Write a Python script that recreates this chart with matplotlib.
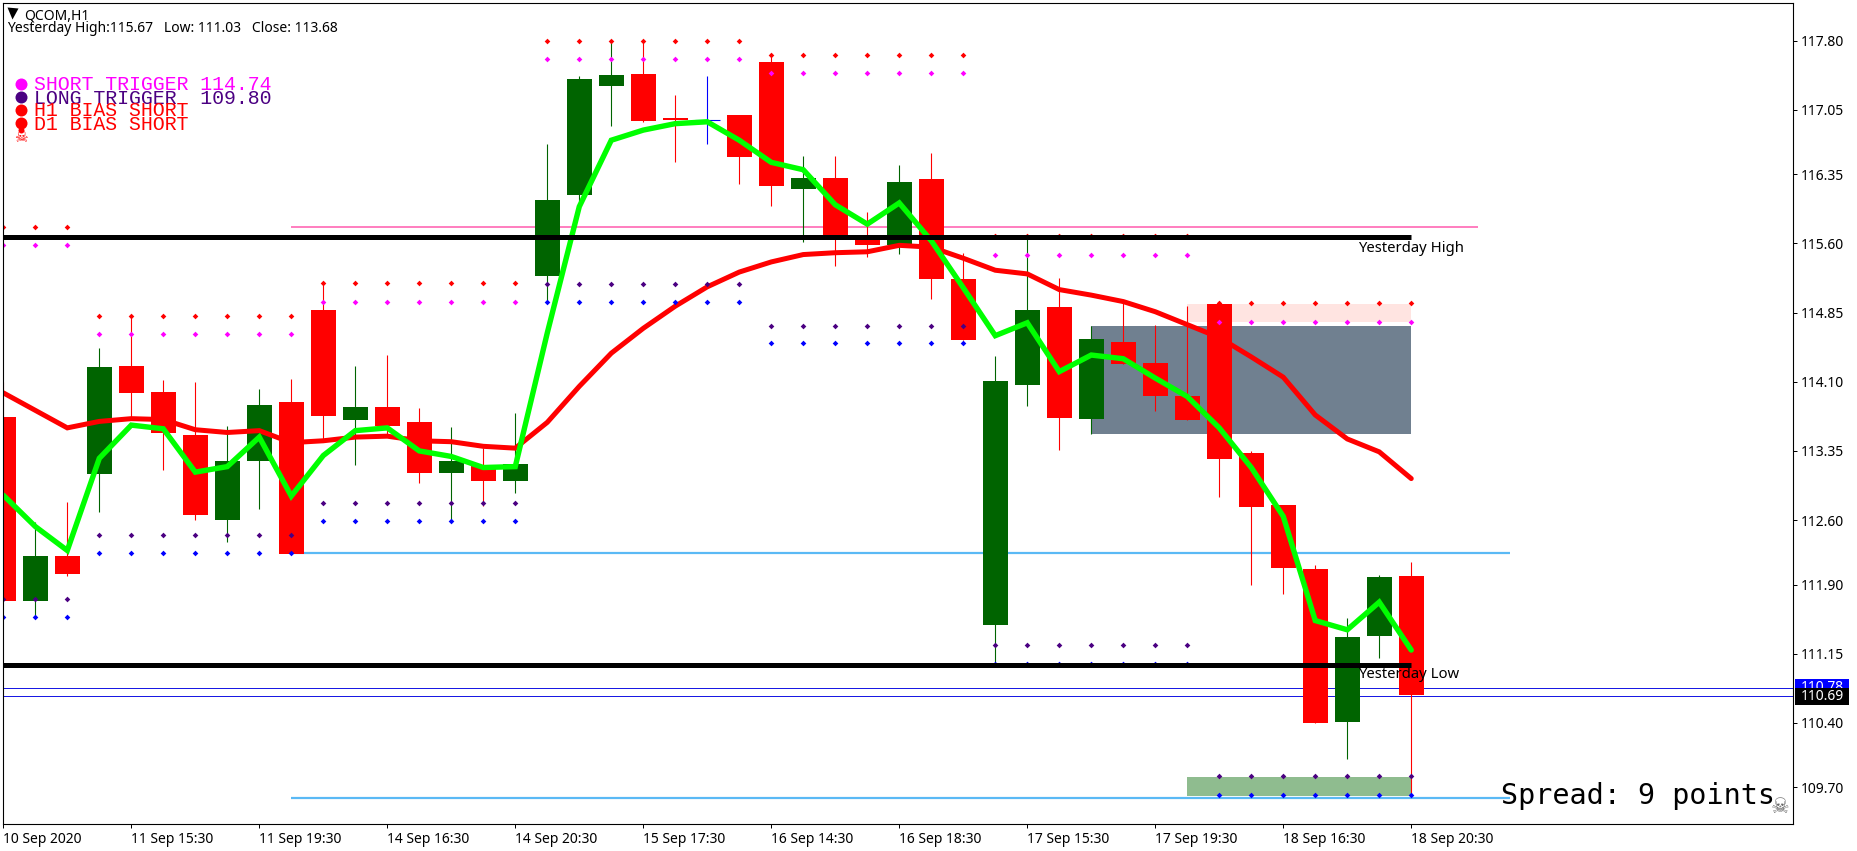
import matplotlib
matplotlib.use("Agg")
import matplotlib.pyplot as plt
from matplotlib.lines import Line2D
from matplotlib.patches import Rectangle

plt.rcParams['font.family'] = ['Noto Sans', 'DejaVu Sans']

W, H = 1857, 851

# candles, QCOM H1
opens = [113.72, 111.72, 112.21, 113.10, 114.27, 113.99, 113.52, 112.60, 113.24, 113.88,
         114.88, 113.69, 113.83, 113.66, 113.11, 113.20, 113.02, 115.25, 116.13, 117.31,
         117.44, 116.96, 116.94, 116.99, 117.57, 116.19, 116.31, 115.67, 115.58, 116.30,
         115.22, 111.46, 114.06, 114.91, 113.70, 114.53, 114.30, 113.95, 114.94, 113.33,
         112.76, 112.07, 110.41, 111.34, 111.99]
highs = [114.10, 112.58, 112.80, 114.47, 114.81, 114.12, 114.10, 113.62, 114.02, 114.13,
         115.17, 114.27, 114.39, 113.82, 113.61, 113.38, 113.76, 116.68, 117.42, 117.81,
         117.81, 117.21, 117.42, 116.99, 117.67, 116.55, 116.55, 115.94, 116.45, 116.58,
         115.50, 114.38, 115.66, 115.23, 114.71, 114.96, 114.72, 114.92, 114.98, 113.35,
         112.76, 112.11, 111.54, 112.00, 112.14]
lows = [111.72, 111.55, 111.99, 112.69, 113.72, 113.14, 112.60, 112.36, 112.72, 112.23,
        113.47, 113.20, 113.50, 113.00, 112.58, 112.75, 112.89, 114.97, 116.06, 116.87,
        116.92, 116.48, 116.68, 116.25, 116.01, 115.62, 115.36, 115.45, 115.49, 115.00,
        114.55, 111.06, 113.84, 113.36, 113.53, 114.29, 113.78, 113.68, 112.85, 111.90,
        111.80, 110.40, 110.01, 111.10, 109.62]
closes = [111.72, 112.21, 112.01, 114.26, 113.98, 113.54, 112.65, 113.24, 113.85, 112.23,
          113.73, 113.83, 113.62, 113.11, 113.24, 113.02, 113.21, 116.07, 117.38, 117.43,
          116.93, 116.94, 116.94, 116.54, 116.22, 116.31, 115.65, 115.58, 116.27, 115.21,
          114.55, 114.11, 114.88, 113.71, 114.56, 114.29, 113.95, 113.68, 113.26, 112.74,
          112.08, 110.40, 111.33, 111.98, 110.70]

fast_ma = [112.87, 112.53, 112.27, 113.27, 113.63, 113.59, 113.12, 113.18, 113.50, 112.86,
           113.30, 113.57, 113.60, 113.35, 113.29, 113.17, 113.18, 114.63, 116.00, 116.72,
           116.83, 116.90, 116.92, 116.72, 116.48, 116.40, 116.02, 115.81, 116.04, 115.63,
           115.12, 114.60, 114.74, 114.21, 114.39, 114.35, 114.14, 113.94, 113.60, 113.17,
           112.64, 111.51, 111.41, 111.71, 111.19]
slow_ma = [113.98, 113.79, 113.60, 113.67, 113.70, 113.69, 113.58, 113.55, 113.57, 113.44,
           113.46, 113.50, 113.51, 113.46, 113.45, 113.40, 113.38, 113.66, 114.05, 114.41,
           114.68, 114.92, 115.13, 115.29, 115.40, 115.48, 115.50, 115.51, 115.58, 115.56,
           115.44, 115.31, 115.27, 115.10, 115.04, 114.97, 114.86, 114.72, 114.58, 114.37,
           114.15, 113.74, 113.48, 113.34, 113.05]

# trigger dots, one level per block of bars
block_first = [0, 3, 10, 17, 24, 31, 38]
block_last = [2, 9, 16, 23, 30, 37, 44]
upper_red = [115.78, 114.81, 115.17, 117.80, 117.64, 115.68, 114.95]
upper_magenta = [115.58, 114.62, 114.97, 117.60, 117.45, 115.48, 114.75]
lower_purple = [111.74, 112.44, 112.78, 115.16, 114.71, 111.24, 109.82]
lower_blue = [111.55, 112.24, 112.59, 114.96, 114.52, 111.04, 109.62]

yesterday_high = 115.67
yesterday_low = 111.03
pink_level = 115.78
sky_levels = [112.24, 109.58]
bid_ask = [110.78, 110.69]

# zones: first bar, last bar, top, bottom, colour
zone_first = [34, 37, 37]
zone_last = [44, 44, 44]
zone_top = [114.71, 114.94, 109.81]
zone_bottom = [113.53, 114.75, 109.61]
zone_colors = ['#708090', '#ffe4e1', '#8fbc8f']

y_ticks = [117.80, 117.05, 116.35, 115.60, 114.85, 114.10, 113.35, 112.60, 111.90, 111.15, 110.40, 109.70]
x_tick_bars = [0, 4, 8, 12, 16, 20, 24, 28, 32, 36, 40, 44]
x_tick_labels = ['10 Sep 2020', '11 Sep 15:30', '11 Sep 19:30', '14 Sep 16:30', '14 Sep 20:30', '15 Sep 17:30',
                 '16 Sep 14:30', '16 Sep 18:30', '17 Sep 15:30', '17 Sep 19:30', '18 Sep 16:30', '18 Sep 20:30']

CANDLE_UP = '#006400'
CANDLE_DOWN = '#ff0000'
px = 0.72  # one pixel in points at dpi 100

fig = plt.figure(figsize=(W / 100, H / 100), dpi=100, facecolor='white')
ax = fig.add_axes([2.5 / W, 1 - 824.3 / H, (1793 - 2.5) / W, (824.3 - 2.5) / H])
ax.set_xlim(-0.025, 55.93)
ax.set_ylim(109.30, 118.214)

bars = list(range(len(opens)))

# zones at the back
for first, last, top, bottom, col in zip(zone_first, zone_last, zone_top, zone_bottom, zone_colors):
    ax.add_patch(Rectangle((first, bottom), last - first, top - bottom, fc=col, ec='none', zorder=1))

# levels behind the candles
ax.hlines(pink_level, 9, 46.1, color='#ff80c0', lw=2 * px, zorder=2)
ax.hlines(sky_levels, 9, 47.1, color='#5ab9f5', lw=2.2 * px, zorder=2)
ax.axhline(bid_ask[0], color='#0000e0', lw=0.9 * px, zorder=2)
ax.axhline(bid_ask[1], color='#0000e0', lw=0.9 * px, zorder=2)

# candles
for i in bars:
    o, c = opens[i], closes[i]
    col = CANDLE_UP if c > o else CANDLE_DOWN if c < o else '#0000ff'
    ax.vlines(i, lows[i], highs[i], color=col, lw=1.1 * px, zorder=3)
    if c == o:
        ax.hlines(c, i - 25 / 64, i + 25 / 64, color=col, lw=1.1 * px, zorder=3)
    else:
        ax.bar(i, abs(c - o), bottom=min(o, c), width=25 / 32, color=col, lw=0, antialiased=False, zorder=3)

# moving averages
ax.plot(bars, slow_ma, color='#ff0000', lw=5 * px, solid_capstyle='round', solid_joinstyle='miter', zorder=4)
ax.plot(bars, fast_ma, color='#00ff00', lw=5.4 * px, solid_capstyle='round', solid_joinstyle='miter', zorder=4)

# trigger dots
for levels, col in [(upper_red, '#ff0000'), (upper_magenta, '#ff00ff'),
                    (lower_purple, '#4b0082'), (lower_blue, '#0000ff')]:
    for first, last, level in zip(block_first, block_last, levels):
        xs = list(range(first, last + 1))
        ax.plot(xs, [level] * len(xs), ls='none', marker='D', ms=4 * px, mfc=col, mec='none', zorder=5, clip_on=True)

# yesterday levels
ax.hlines([yesterday_high, yesterday_low], -1, 44, color='black', lw=5 * px, zorder=6)
ax.text(42.35, 115.55, 'Yesterday High', fontsize=10.7, va='center', color='black', zorder=7)
ax.text(42.35, 110.93, 'Yesterday Low', fontsize=10.7, va='center', color='black', zorder=7)

# axes
for s in ax.spines.values():
    s.set_linewidth(1.1 * px)
    s.set_color('black')
    s.set_zorder(10)
ax.yaxis.tick_right()
ax.set_yticks(y_ticks)
ax.set_yticklabels(['%.2f' % v for v in y_ticks])
ax.set_xticks(x_tick_bars)
ax.set_xticklabels(x_tick_labels, ha='left')
ax.tick_params(axis='y', length=3.5 * px, width=px, pad=3.2, labelsize=10)
ax.tick_params(axis='x', length=3.5 * px, width=px, pad=3.2, labelsize=10)

# bid and ask tags on the price scale
trans = ax.get_yaxis_transform()
tag_half = 8.5 / 92.2
for level, col in zip(bid_ask, ['#0000ff', '#000000']):
    ax.add_patch(Rectangle((1.0013, level - tag_half), 0.0302, 2 * tag_half, transform=trans,
                           fc=col, ec='none', clip_on=False, zorder=11))
    ax.text(1.0045, level, '%.2f' % level, transform=trans, color='white', fontsize=10,
            va='center', ha='left', clip_on=False, zorder=11)


def label(x, y, s, **kw):
    fig.text(x / W, 1 - y / H, s, va='center', zorder=20, **kw)


def dot(x, y, col, size, marker='o'):
    fig.add_artist(Line2D([x], [H - y], transform=None, ls='none', marker=marker, ms=size * px, mfc=col, mec='none', zorder=19))


# header
dot(12, 13, 'black', 11, 'v')
label(24, 16, 'QCOM,H1', fontsize=10, color='black')
label(7.3, 29, 'Yesterday High:115.67   Low: 111.03   Close: 113.68', fontsize=10, color='black')

# on-chart panel
panel = [('SHORT TRIGGER 114.74', '#ff00ff', 84), ('LONG TRIGGER  109.80', '#4b0082', 97),
         ('H1 BIAS SHORT', '#ff0000', 110), ('D1 BIAS SHORT', '#ff0000', 123)]
for txt, col, y in panel:
    dot(21, y, col, 12)
    label(34, y + 1, txt, color=col, fontsize=14.3, family=['Liberation Mono', 'DejaVu Sans Mono'])
dot(20.7, 130, '#ff0000', 6)
label(20.7, 138, '\u2620', color='#ff0000', fontsize=11, ha='center', family=['DejaVu Sans'])

label(1501, 796.5, 'Spread: 9 points', color='black', fontsize=20.4, family=['DejaVu Sans Mono'])
label(1780, 807, '\u2620', color='#696969', fontsize=15, ha='center', family=['DejaVu Sans'])

fig.savefig('out.png', dpi=100, facecolor='white')
